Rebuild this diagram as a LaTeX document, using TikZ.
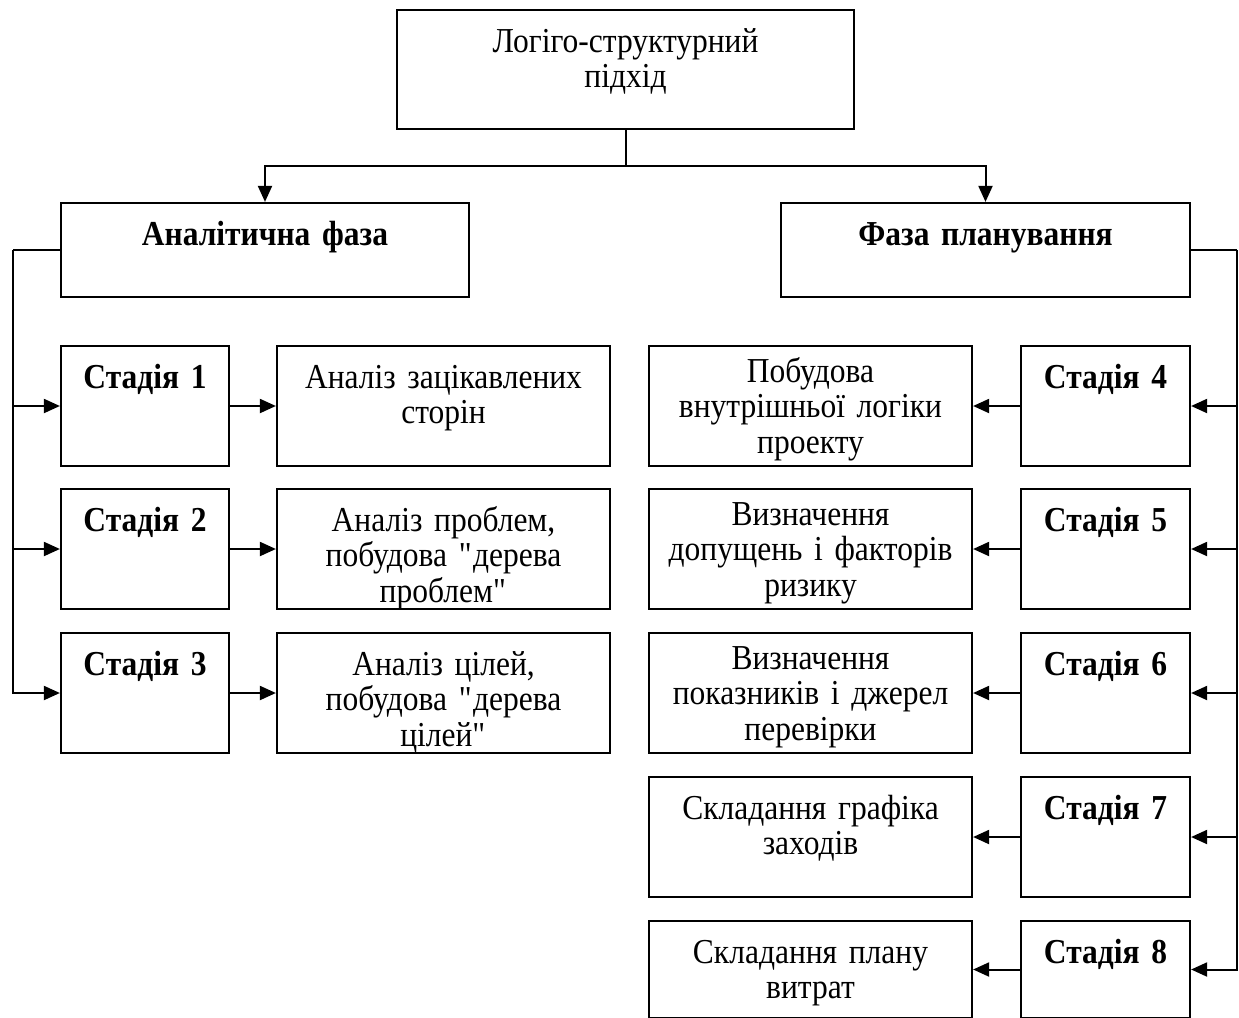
\documentclass[tikz,border=0pt]{standalone}
\usepackage{fontspec}
\setmainfont{Liberation Serif}[FakeStretch=0.9]
\usepackage{tikz}
\usetikzlibrary{arrows.meta}
\pgfdeclarelayer{bg}
\pgfsetlayers{bg,main}

\tikzset{
  box/.style={draw, line width=2.2pt, align=center, inner xsep=4pt, inner ysep=10pt,
    text height=32pt, font=\fontsize{35}{35.5}\selectfont},
  tall/.style={text height=26pt},
  bold/.style={font=\fontsize{35}{35.5}\selectfont\bfseries},
  link/.style={line width=2pt},
  arr/.style={line width=2pt, -{Triangle[length=16pt,width=14pt]}}
}
\newcommand{\qq}{\textquotedbl}

\begin{document}
\begin{tikzpicture}[x=1pt, y=-1pt]
        \useasboundingbox (0,0) rectangle (1239,1017);
        \node (top) [box, text width=449, text depth=67] at (625.5, 69.5) {Логіго-структурний\\підхід};
        \node (an) [box, bold, text width=400, text depth=42] at (265, 250) {Аналітична фаза};
        \node (pl) [box, bold, text width=401, text depth=42] at (985.5, 250) {Фаза планування};
        \node (s1) [box, bold, text width=160, text depth=68] at (145, 406) {Стадія 1};
        \node (s2) [box, bold, text width=160, text depth=68] at (145, 549) {Стадія 2};
        \node (s3) [box, bold, text width=160, text depth=68] at (145, 693) {Стадія 3};
        \node (t1) [box, text width=325, text depth=68] at (443.5, 406) {Аналіз зацікавлених\\сторін};
        \node (t2) [box, text width=325, text depth=68] at (443.5, 549) {Аналіз проблем,\\побудова \qq дерева\\проблем\qq};
        \node (t3) [box, text width=325, text depth=68] at (443.5, 693) {Аналіз цілей,\\побудова \qq дерева\\цілей\qq};
        \node (s4) [box, bold, text width=161, text depth=68] at (1105.5, 406) {Стадія 4};
        \node (s5) [box, bold, text width=161, text depth=68] at (1105.5, 549) {Стадія 5};
        \node (s6) [box, bold, text width=161, text depth=68] at (1105.5, 693) {Стадія 6};
        \node (s7) [box, bold, text width=161, text depth=68] at (1105.5, 837) {Стадія 7};
        \node (s8) [box, bold, text width=161, text depth=45] at (1105.5, 969.5) {Стадія 8};
        \node (t4) [box, tall, text width=315, text depth=74] at (810.5, 406) {Побудова\\внутрішньої логіки\\проекту};
        \node (t5) [box, tall, text width=315, text depth=74] at (810.5, 549) {Визначення\\допущень і факторів\\ризику};
        \node (t6) [box, tall, text width=315, text depth=74] at (810.5, 693) {Визначення\\показників і джерел\\перевірки};
        \node (t7) [box, text width=315, text depth=68] at (810.5, 837) {Складання графіка\\заходів};
        \node (t8) [box, text width=315, text depth=45] at (810.5, 969.5) {Складання плану\\витрат};
        \coordinate (tj) at (625.5, 166);
        \coordinate (lb) at (13, 250);
        \coordinate (rb) at (1237, 250);
        \begin{pgfonlayer}{bg}
                \draw [link] (top) -- (tj);
                \draw [arr] (tj) -| (an);
                \draw [arr] (tj) -| (pl);
                \draw [link] (an) -- (lb);
                \draw [arr] (lb) |- (s1);
                \draw [arr] (lb) |- (s2);
                \draw [arr] (lb) |- (s3);
                \draw (s1) edge [arr] (t1);
                \draw (s2) edge [arr] (t2);
                \draw (s3) edge [arr] (t3);
                \draw [link] (pl) -- (rb);
                \draw [arr] (rb) |- (s4);
                \draw [arr] (rb) |- (s5);
                \draw [arr] (rb) |- (s6);
                \draw [arr] (rb) |- (s7);
                \draw [arr] (rb) |- (s8);
                \draw (s4) edge [arr] (t4);
                \draw (s5) edge [arr] (t5);
                \draw (s6) edge [arr] (t6);
                \draw (s7) edge [arr] (t7);
                \draw (s8) edge [arr] (t8);
        \end{pgfonlayer}
\end{tikzpicture}
\end{document}
